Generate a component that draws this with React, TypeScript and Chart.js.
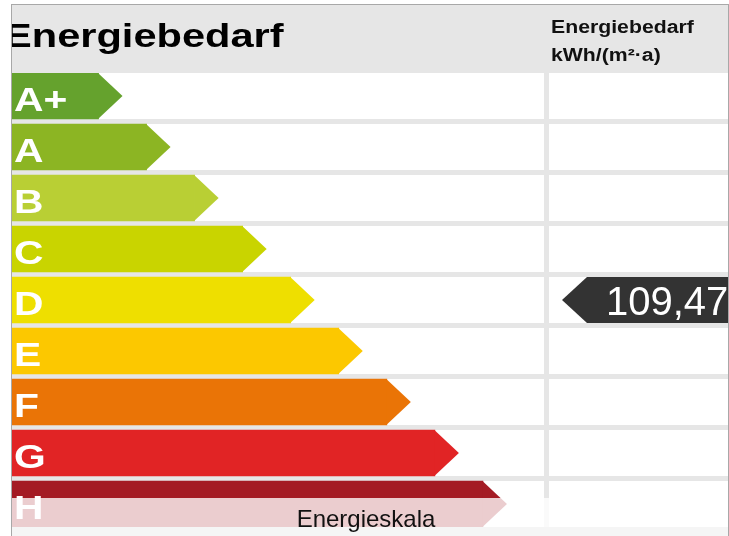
import React, { useEffect, useRef } from "react";
import { Chart, registerables } from "chart.js";

Chart.register(...registerables);

// ---- data ----
const classes = ["A+", "A", "B", "C", "D", "E", "F", "G", "H"];
const barLengths = [1.8, 2.8, 3.8, 4.8, 5.8, 6.8, 7.8, 8.8, 9.8];
const classColors = [
  "#65a22d",
  "#8cb523",
  "#b9cf34",
  "#c9d400",
  "#eedf00",
  "#fcc800",
  "#ea7406",
  "#e12425",
  "#a41b24",
];
const currentValue = 109.47;
const currentClass = "D";
const headerTitle = "Energiebedarf";
const columnTitle = ["Energiebedarf", "kWh/(m²·a)"];
const scaleTitle = "Energieskala";

const SANS = '"Liberation Sans", Arial, Helvetica, sans-serif';
const GRID = "#e6e6e6";

function drawText(
  ctx: CanvasRenderingContext2D,
  text: string,
  x: number,
  y: number,
  font: string,
  color: string,
  sx = 1,
  align: CanvasTextAlign = "left"
) {
  ctx.save();
  ctx.font = font;
  ctx.fillStyle = color;
  ctx.textAlign = align;
  ctx.textBaseline = "alphabetic";
  ctx.translate(x, y);
  ctx.scale(sx, 1);
  ctx.fillText(text, 0, 0);
  ctx.restore();
}

const energyPlugin = {
  id: "energyPlugin",
  beforeDraw(chart: any) {
    const ctx: CanvasRenderingContext2D = chart.ctx;
    const yScale = chart.scales.y;
    const W = chart.width;
    const H = chart.height;
    ctx.save();
    ctx.fillStyle = "#ffffff";
    ctx.fillRect(0, 0, W, H);
    // horizontal separators between classes
    const band = yScale.getPixelForValue(1) - yScale.getPixelForValue(0);
    ctx.fillStyle = GRID;
    for (let i = 0; i <= classes.length; i++) {
      const yb = yScale.getPixelForValue(0) - band / 2 + i * band;
      ctx.fillRect(12, yb - 2.5, 716, 5);
    }
    // vertical separator between scale and value column
    ctx.fillRect(544, 73, 5, 454);
    ctx.restore();
  },
  afterDatasetsDraw(chart: any) {
    const ctx: CanvasRenderingContext2D = chart.ctx;
    const meta = chart.getDatasetMeta(0);
    ctx.save();
    meta.data.forEach((el: any, i: number) => {
      const x = el.x;
      const y = el.y;
      const h = el.height;
      ctx.fillStyle = classColors[i];
      ctx.beginPath();
      ctx.moveTo(x - 0.5, y - h / 2);
      ctx.lineTo(x + h / 2 + 1, y);
      ctx.lineTo(x - 0.5, y + h / 2);
      ctx.closePath();
      ctx.fill();
      drawText(ctx, classes[i], 14, y + 14.5, `bold 34px ${SANS}`, "#ffffff", 1.2);
    });
    ctx.restore();
  },
  afterDraw(chart: any) {
    const ctx: CanvasRenderingContext2D = chart.ctx;
    const yScale = chart.scales.y;
    ctx.save();

    // value marker
    const idx = classes.indexOf(currentClass);
    const my = yScale.getPixelForValue(idx);
    const mh = 46;
    ctx.fillStyle = "#333333";
    ctx.beginPath();
    ctx.moveTo(562, my);
    ctx.lineTo(587, my - mh / 2);
    ctx.lineTo(728, my - mh / 2);
    ctx.lineTo(728, my + mh / 2);
    ctx.lineTo(587, my + mh / 2);
    ctx.closePath();
    ctx.fill();
    ctx.save();
    ctx.beginPath();
    ctx.rect(0, 0, 728, 536);
    ctx.clip();
    const valText = currentValue.toLocaleString("de-DE", {
      minimumFractionDigits: 2,
      maximumFractionDigits: 2,
    });
    drawText(ctx, valText, 606, my + 15, `40px ${SANS}`, "#ffffff");
    ctx.restore();

    // header band
    ctx.fillStyle = GRID;
    ctx.fillRect(12, 5, 716, 68);
    ctx.save();
    ctx.beginPath();
    ctx.rect(12, 0, 716, 536);
    ctx.clip();
    drawText(ctx, headerTitle, 4, 47, `bold 33px ${SANS}`, "#000000", 1.26);
    drawText(ctx, columnTitle[0], 551, 33, `bold 18px ${SANS}`, "#111111", 1.18);
    drawText(ctx, columnTitle[1], 551, 61, `bold 18px ${SANS}`, "#111111", 1.18);
    ctx.restore();

    // translucent bottom overlay with scale title
    ctx.fillStyle = "rgba(255,255,255,0.78)";
    ctx.fillRect(12, 498, 716, 29);
    ctx.fillStyle = "#f5f5f5";
    ctx.fillRect(12, 527, 716, 9);
    drawText(ctx, scaleTitle, 366, 527, `24px ${SANS}`, "#111111", 1, "center");

    // frame
    ctx.fillStyle = "#a8a8a8";
    ctx.fillRect(11, 4, 1, 532);
    ctx.fillRect(11, 4, 718, 1);
    ctx.fillRect(728, 4, 1, 532);
    ctx.restore();
  },
};

export default function App() {
  const canvasRef = useRef<HTMLCanvasElement | null>(null);

  useEffect(() => {
    const canvas = canvasRef.current;
    if (!canvas) return;
    const chart = new Chart(canvas, {
      type: "bar",
      data: {
        labels: classes,
        datasets: [
          {
            data: barLengths,
            backgroundColor: classColors,
            borderWidth: 0,
            barThickness: 46,
          },
        ],
      },
      options: {
        indexAxis: "y",
        animation: false,
        responsive: false,
        devicePixelRatio: 1,
        layout: { padding: { left: 12, right: 1, top: 70.5, bottom: 6.5 } },
        plugins: {
          legend: { display: false },
          tooltip: { enabled: false },
          title: { display: false },
        },
        scales: {
          x: { type: "linear", min: 0, max: 14.9, display: false },
          y: { type: "category", display: false, offset: true },
        },
      },
      plugins: [energyPlugin],
    });
    return () => chart.destroy();
  }, []);

  return (
    <div style={{ position: "fixed", left: 0, top: 0, width: 729, height: 536 }}>
      <canvas ref={canvasRef} width={729} height={536} style={{ display: "block" }} />
    </div>
  );
}
